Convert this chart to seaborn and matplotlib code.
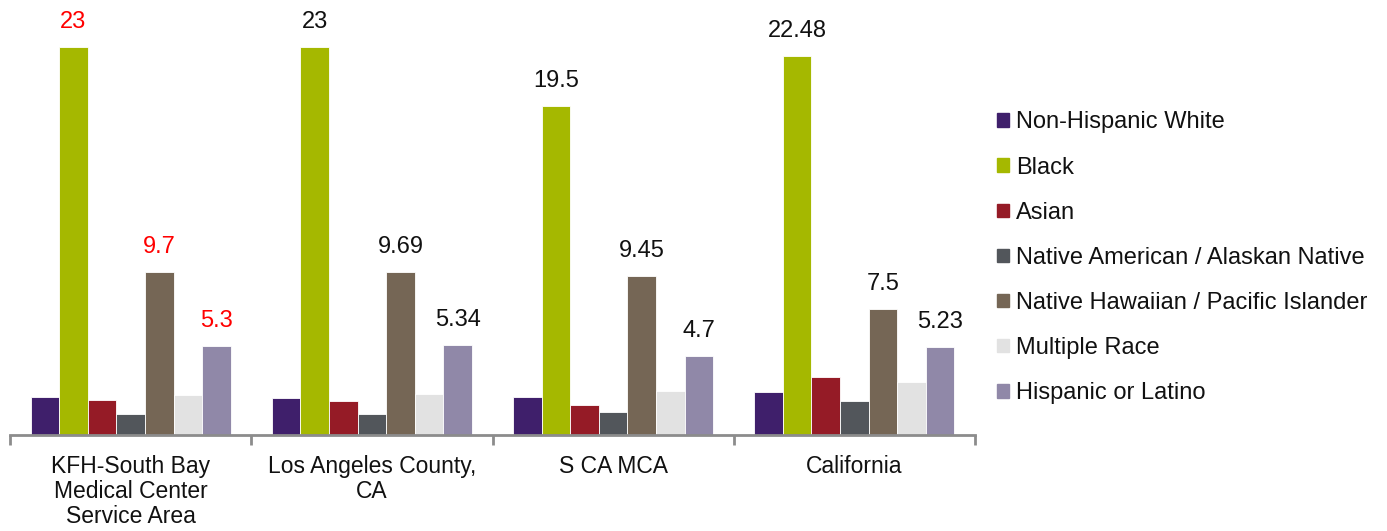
import matplotlib
matplotlib.use("Agg")
import matplotlib.pyplot as plt
from matplotlib.ticker import FixedLocator, NullFormatter
import seaborn as sns
import pandas as pd

areas = ["KFH-South Bay\nMedical Center\nService Area", "Los Angeles County,\nCA", "S CA MCA", "California"]
races = ["Non-Hispanic White", "Black", "Asian", "Native American / Alaskan Native",
         "Native Hawaiian / Pacific Islander", "Multiple Race", "Hispanic or Latino"]
non_hispanic_white = [2.27, 2.23, 2.27, 2.57]
black = [23, 23, 19.5, 22.48]
asian = [2.07, 2.03, 1.80, 3.44]
native_american = [1.28, 1.26, 1.36, 2.02]
native_hawaiian = [9.7, 9.69, 9.45, 7.5]
multiple_race = [2.39, 2.43, 2.64, 3.18]
hispanic = [5.3, 5.34, 4.7, 5.23]
label_text = {"Black": ["23", "23", "19.5", "22.48"],
              "Native Hawaiian / Pacific Islander": ["9.7", "9.69", "9.45", "7.5"],
              "Hispanic or Latino": ["5.3", "5.34", "4.7", "5.23"]}
colors = ["#3F1F6B", "#A5B800", "#951B26", "#52565B", "#756655", "#E2E2E2", "#9088A8"]

series = [non_hispanic_white, black, asian, native_american, native_hawaiian, multiple_race, hispanic]
rows = []
for race, vals in zip(races, series):
    for area, v in zip(areas, vals):
        rows.append({"area": area, "race": race, "value": v})
df = pd.DataFrame(rows)

sns.set_theme(style="white")
plt.rcParams["font.family"] = ["Liberation Sans", "DejaVu Sans"]

fig = plt.figure(figsize=(13.87, 5.31), dpi=100)
ax = fig.add_axes([10 / 1387, 1 - 435.3 / 531, 965 / 1387, (435.3 - 13.3) / 531])

sns.barplot(data=df, x="area", y="value", hue="race", order=areas, hue_order=races,
            palette=colors, width=0.83, gap=0, ax=ax, saturation=1,
            edgecolor="white", linewidth=0.6)

ax.set_xlim(-0.5, 3.5)
ax.set_ylim(0, 25)
ax.set_xlabel("")
ax.set_ylabel("")
ax.set_yticks([])
for s in ["left", "right", "top"]:
    ax.spines[s].set_visible(False)
ax.spines["bottom"].set_color("#8C8C8C")
ax.spines["bottom"].set_linewidth(2)

ax.xaxis.set_minor_locator(FixedLocator([-0.5, 0.5, 1.5, 2.5, 3.5]))
ax.xaxis.set_minor_formatter(NullFormatter())
ax.tick_params(axis="x", which="minor", direction="out", length=7, width=2, color="#8C8C8C", bottom=True)
ax.tick_params(axis="x", which="major", length=0, pad=14)
ax.set_xticks(range(len(areas)))
ax.set_xticklabels(areas, fontsize=16.5, linespacing=1.12, color="#111111")

for race, cont in zip(races, ax.containers):
    if race in label_text:
        texts = ax.bar_label(cont, labels=label_text[race], padding=10, fontsize=17)
        texts[0].set_color("#FF0000")
        for t in texts[1:]:
            t.set_color("#111111")

ax.legend_.remove()
handles = [plt.Rectangle((0, 0), 1, 1, color=c) for c in colors]
fig.legend(handles, races, loc="upper left", bbox_to_anchor=(988 / 1387, 1 - 102 / 531),
           frameon=False, fontsize=17, handlelength=0.5, handleheight=0.5,
           handletextpad=0.3, labelspacing=0.98, borderaxespad=0, labelcolor="#111111")

fig.savefig("out.png", dpi=100)
